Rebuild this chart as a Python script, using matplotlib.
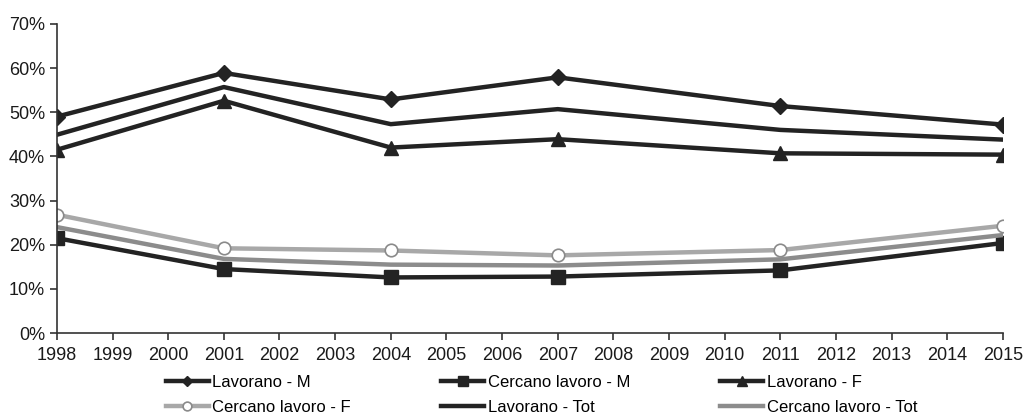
import matplotlib.pyplot as plt
from matplotlib.ticker import PercentFormatter

# survey years with data points
years = [1998, 2001, 2004, 2007, 2011, 2015]

# shares (%)
lavorano_m = [49.0, 58.9, 52.9, 57.9, 51.4, 47.2]
lavorano_tot = [44.9, 55.7, 47.3, 50.7, 46.0, 43.8]
lavorano_f = [41.5, 52.6, 42.0, 43.9, 40.7, 40.4]
cercano_f = [26.8, 19.2, 18.7, 17.6, 18.8, 24.3]
cercano_tot = [24.0, 16.8, 15.5, 15.3, 16.7, 22.2]
cercano_m = [21.5, 14.5, 12.6, 12.8, 14.2, 20.4]

tick_years = list(range(1998, 2016))

plt.rcParams['font.family'] = ['Liberation Sans', 'DejaVu Sans']

fig = plt.figure(figsize=(10.34, 4.19), dpi=100)
ax = fig.add_axes([0.055, 0.205, 0.915, 0.738])

dark = '#232323'
ax.plot(years, lavorano_m, color=dark, lw=3.2, marker='D', ms=8, label='Lavorano - M')
ax.plot(years, cercano_m, color=dark, lw=3.2, marker='s', ms=10, label='Cercano lavoro - M')
ax.plot(years, lavorano_f, color=dark, lw=3.2, marker='^', ms=10, label='Lavorano - F')
ax.plot(years, cercano_f, color='#a8a8a8', lw=3.2, marker='o', ms=9, mfc='white',
        mec='#8a8a8a', mew=1.2, label='Cercano lavoro - F')
ax.plot(years, lavorano_tot, color=dark, lw=3.2, label='Lavorano - Tot')
ax.plot(years, cercano_tot, color='#8c8c8c', lw=3.2, label='Cercano lavoro - Tot')

ax.set_xlim(1998, 2015)
ax.set_ylim(0, 70)
ax.set_yticks(range(0, 71, 10))
ax.yaxis.set_major_formatter(PercentFormatter(decimals=0))
ax.set_xticks(tick_years)

for side in ['top', 'right']:
    ax.spines[side].set_visible(False)
for side in ['left', 'bottom']:
    ax.spines[side].set_color('#333333')
    ax.spines[side].set_linewidth(1.2)
ax.tick_params(axis='both', direction='out', length=5, width=1.2, color='#333333',
               labelsize=13, labelcolor='#1a1a1a')
ax.tick_params(axis='x', pad=5)

# legend order so that rows read like the original (column-major fill)
h, l = ax.get_legend_handles_labels()
order = [0, 3, 1, 4, 2, 5]
ax.legend([h[i] for i in order], [l[i] for i in order], ncol=3,
          loc='upper left', bbox_to_anchor=(0.108, -0.115), frameon=False,
          fontsize=12, handlelength=2.6, handletextpad=0.2, columnspacing=5.4,
          labelspacing=0.6, borderaxespad=0, markerscale=0.7)

fig.savefig('out.png', dpi=100)
